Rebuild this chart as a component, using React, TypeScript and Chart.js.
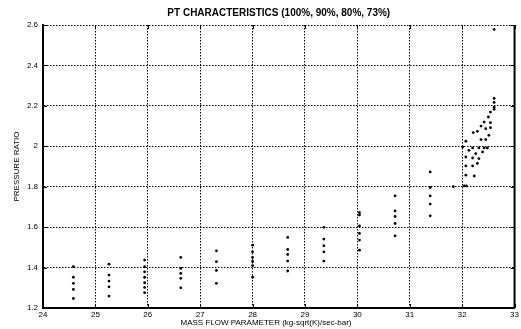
import { useEffect, useRef } from "react";
import { Chart, registerables } from "chart.js";

Chart.register(...registerables);

const chartTitle = "PT CHARACTERISTICS (100%, 90%, 80%, 73%)";
const xAxisLabel = "MASS FLOW PARAMETER (kg-sqrt(K)/sec-bar)";
const yAxisLabel = "PRESSURE RATIO";

const xTicks = [24, 25, 26, 27, 28, 29, 30, 31, 32, 33];
const yTicks = [1.2, 1.4, 1.6, 1.8, 2.0, 2.2, 2.4, 2.6];

// vertical columns of points: mass flow and the pressure ratios at it
const columnFlow = [24.58, 25.26, 25.94, 26.63, 27.31, 28.0, 28.67, 29.36, 30.04, 30.72, 31.39];
const columnRatios = [
  [1.405, 1.352, 1.322, 1.292, 1.247],
  [1.417, 1.363, 1.333, 1.305, 1.259],
  [1.437, 1.404, 1.379, 1.352, 1.325, 1.302, 1.276],
  [1.45, 1.396, 1.371, 1.347, 1.3],
  [1.483, 1.429, 1.386, 1.322],
  [1.511, 1.478, 1.45, 1.43, 1.41, 1.352],
  [1.549, 1.49, 1.465, 1.432, 1.383],
  [1.599, 1.541, 1.508, 1.478, 1.432],
  [1.672, 1.66, 1.606, 1.569, 1.536, 1.486],
  [1.755, 1.68, 1.653, 1.618, 1.557],
  [1.873, 1.796, 1.755, 1.714, 1.656],
];

// dense cluster near surge
const surgeFlow = [
  31.83, 32.04, 32.08, 32.07, 32.23, 32.07, 32.2, 32.29, 32.07, 32.2, 32.32,
  32.13, 32.26, 32.39, 32.01, 32.2, 32.32, 32.42, 32.48, 32.07, 32.36, 32.45,
  32.51, 32.21, 32.29, 32.45, 32.54, 32.36, 32.54, 32.42, 32.5, 32.54, 32.61,
  32.61, 32.61, 32.61, 32.61, 32.66,
];
const surgeRatio = [
  1.8, 1.804, 1.804, 1.857, 1.853, 1.903, 1.903, 1.915, 1.947, 1.942, 1.939,
  1.98, 1.964, 1.972, 1.997, 1.992, 1.992, 1.992, 1.992, 2.025, 2.033, 2.033,
  2.054, 2.068, 2.074, 2.087, 2.092, 2.1, 2.117, 2.12, 2.145, 2.169, 2.183,
  2.193, 2.217, 2.237, 2.578, 2.606,
];

const fmtTick = (v: number) => String(Number(v.toFixed(1)));

const decorPlugin = {
  id: "decor",
  afterDraw(chart: any) {
    const { ctx, chartArea: a, scales } = chart;
    const xs = scales.x;
    const ys = scales.y;
    ctx.save();
    // right frame
    ctx.strokeStyle = "#000";
    ctx.lineWidth = 2;
    ctx.beginPath();
    ctx.moveTo(a.right, a.top);
    ctx.lineTo(a.right, a.bottom);
    ctx.stroke();
    // inward ticks
    ctx.lineWidth = 1;
    const tl = 4;
    ctx.beginPath();
    for (const v of xTicks) {
      const px = Math.round(xs.getPixelForValue(v)) + 0.5;
      ctx.moveTo(px, a.bottom);
      ctx.lineTo(px, a.bottom - tl);
      ctx.moveTo(px, a.top);
      ctx.lineTo(px, a.top + tl);
    }
    for (const v of yTicks) {
      const py = Math.round(ys.getPixelForValue(v)) + 0.5;
      ctx.moveTo(a.left, py);
      ctx.lineTo(a.left + tl, py);
      ctx.moveTo(a.right, py);
      ctx.lineTo(a.right - tl, py);
    }
    ctx.stroke();
    // texts
    ctx.fillStyle = "#000";
    ctx.textAlign = "center";
    ctx.textBaseline = "middle";
    ctx.font = "bold 10px 'Liberation Sans', Arial, sans-serif";
    ctx.fillText(chartTitle, (a.left + a.right) / 2, 13);
    ctx.font = "8px 'Liberation Sans', Arial, sans-serif";
    ctx.fillText(xAxisLabel, 266, 323);
    ctx.translate(17, (a.top + a.bottom) / 2);
    ctx.rotate(-Math.PI / 2);
    ctx.fillText(yAxisLabel, 0, 0);
    ctx.restore();
  },
};

export default function App() {
  const ref = useRef<HTMLCanvasElement | null>(null);

  useEffect(() => {
    const canvas = ref.current;
    if (!canvas) return;
    const points: { x: number; y: number }[] = [];
    columnFlow.forEach((x, i) => {
      columnRatios[i].forEach((y) => points.push({ x, y }));
    });
    surgeFlow.forEach((x, i) => points.push({ x, y: surgeRatio[i] }));

    const tickFont = { family: "'Liberation Sans', Arial, sans-serif", size: 8 };

    const chart = new Chart(canvas, {
      type: "scatter",
      data: {
        datasets: [
          {
            data: points,
            backgroundColor: "#000",
            borderColor: "#000",
            borderWidth: 0,
            pointRadius: 1.4,
            pointHoverRadius: 1.4,
          },
        ],
      },
      options: {
        animation: false,
        responsive: false,
        maintainAspectRatio: false,
        layout: { padding: { top: 25, right: 5, left: 0, bottom: 0 } },
        plugins: {
          legend: { display: false },
          title: { display: false },
          tooltip: { enabled: false },
        },
        scales: {
          x: {
            type: "linear",
            min: 24,
            max: 33,
            afterBuildTicks: (s: any) => {
              s.ticks = xTicks.map((v) => ({ value: v }));
            },
            afterFit: (s: any) => {
              s.height = 21;
            },
            ticks: {
              font: tickFont,
              color: "#000",
              padding: 2,
              autoSkip: false,
              maxRotation: 0,
              callback: (v: any) => String(v),
            },
            grid: { color: "#000", lineWidth: 1, drawTicks: false },
            border: { display: true, color: "#000", width: 2, dash: [1.5, 1.5] },
          },
          y: {
            type: "linear",
            min: 1.2,
            max: 2.6,
            afterBuildTicks: (s: any) => {
              s.ticks = yTicks.map((v) => ({ value: v }));
            },
            afterFit: (s: any) => {
              s.width = 43;
            },
            ticks: {
              font: tickFont,
              color: "#000",
              padding: 5,
              autoSkip: false,
              callback: (v: any) => fmtTick(Number(v)),
            },
            grid: { color: "#000", lineWidth: 1, drawTicks: false },
            border: { display: true, color: "#000", width: 2, dash: [1.5, 1.5] },
          },
        },
      },
      plugins: [decorPlugin],
    });
    return () => chart.destroy();
  }, []);

  return (
    <div style={{ position: "absolute", left: 0, top: 0, width: 521, height: 329, background: "#fff" }}>
      <canvas ref={ref} width={521} height={329} style={{ display: "block" }} />
    </div>
  );
}
